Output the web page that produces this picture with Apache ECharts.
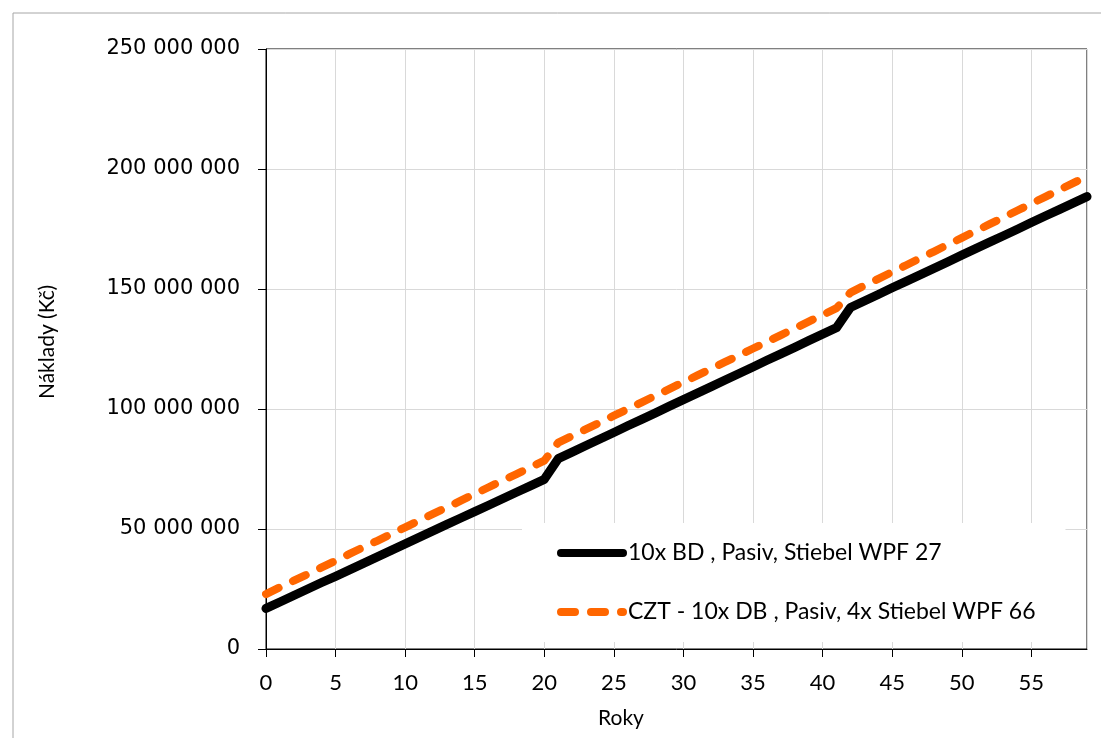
<!DOCTYPE html>
<html>
<head>
<meta charset="utf-8">
<script src="https://cdn.jsdelivr.net/npm/echarts@6/dist/echarts.min.js"></script>
<style>
html,body{margin:0;padding:0;background:#fff;}
#chart{width:1101px;height:738px;}
</style>
</head>
<body>
<div id="chart"></div>
<script>
// Years (x values)
const years = [0,1,2,3,4,5,6,7,8,9,10,11,12,13,14,15,16,17,18,19,20,21,22,23,24,25,26,27,28,29,30,31,32,33,34,35,36,37,38,39,40,41,42,43,44,45,46,47,48,49,50,51,52,53,54,55,56,57,58,59];
// Costs in millions of Kč
const seriesBDmil = [16.9,19.6,22.3,25.0,27.7,30.3,33.0,35.7,38.4,41.1,43.8,46.5,49.2,51.9,54.6,57.2,59.9,62.6,65.3,68.0,70.7,79.3,82.0,84.8,87.5,90.2,93.0,95.7,98.4,101.2,103.9,106.6,109.3,112.1,114.8,117.5,120.3,123.0,125.7,128.5,131.2,133.9,142.3,145.0,147.7,150.5,153.2,155.9,158.6,161.3,164.1,166.8,169.5,172.2,174.9,177.7,180.4,183.1,185.8,188.5];
const seriesCZTmil = [22.9,25.7,28.5,31.2,34.0,36.8,39.6,42.4,45.1,47.9,50.7,53.5,56.3,59.0,61.8,64.6,67.4,70.2,72.9,75.7,78.5,86.0,88.8,91.6,94.4,97.2,100.0,102.8,105.6,108.4,111.2,114.0,116.8,119.6,122.4,125.2,128.0,130.8,133.6,136.4,139.2,142.0,148.5,151.4,154.2,157.1,159.9,162.8,165.6,168.5,171.3,174.2,177.0,179.9,182.7,185.6,188.4,191.3,194.1,197.0];
const seriesNames = ['10x BD , Pasiv, Stiebel WPF 27', 'CZT - 10x DB , Pasiv, 4x Stiebel WPF 66'];
const yTicks = [0,50000000,100000000,150000000,200000000,250000000];
const xTicks = [0,5,10,15,20,25,30,35,40,45,50,55];
const xTitle = 'Roky';
const yTitle = 'Náklady (Kč)';

const toPairs = (arr) => arr.map((v, i) => [years[i], v * 1e6]);
const fmt = (v) => String(v).replace(/\B(?=(\d{3})+(?!\d))/g, ' ');

const chart = echarts.init(document.getElementById('chart'), null, {renderer: 'canvas'});
const calib = 'Lato, "Open Sans", sans-serif';
chart.setOption({
  animation: false,
  backgroundColor: '#fff',
  grid: {left: 266, top: 49, right: 14, bottom: 89, show: true, borderColor: '#000', borderWidth: 1, backgroundColor: 'transparent'},
  xAxis: {
    type: 'value', min: 0, max: 59, interval: 5,
    axisLine: {show: true, lineStyle: {color: '#000', width: 1}},
    axisTick: {show: true, length: 8, lineStyle: {color: '#000'}},
    splitLine: {show: true, lineStyle: {color: '#d9d9d9', width: 1}},
    axisLabel: {
      fontFamily: calib, fontSize: 22, color: '#000', margin: 23,
      showMaxLabel: false,
      formatter: (v) => xTicks.includes(v) ? String(v) : ''
    }
  },
  yAxis: {
    type: 'value', min: yTicks[0], max: yTicks[yTicks.length - 1], interval: 50000000,
    axisLine: {show: true, lineStyle: {color: '#000', width: 1}},
    axisTick: {show: true, length: 8, lineStyle: {color: '#000'}},
    splitLine: {show: true, lineStyle: {color: '#d9d9d9', width: 1}},
    axisLabel: {fontFamily: '"DejaVu Sans", Verdana, sans-serif', fontSize: 21, color: '#000', margin: 26, formatter: fmt}
  },
  legend: {
    orient: 'vertical',
    left: 522, top: 523,
    padding: [18, 30, 18, 35],
    backgroundColor: '#fff',
    itemWidth: 62, itemHeight: 24, itemGap: 35,
    itemStyle: {opacity: 0},
    lineStyle: {width: 8, cap: 'round'},
    textStyle: {fontFamily: calib, fontSize: 23, color: '#000', padding: [0,0,0,0], lineHeight: 24},
    data: seriesNames
  },
  graphic: [
    {type: 'rect', left: 10.5, top: 10.5, shape: {x: 0, y: 0, width: 1200, height: 800}, style: {fill: 'none', stroke: '#a6a6a6', lineWidth: 1}, silent: true, z: -10},
    {type: 'text', style: {text: xTitle, x: 621, y: 718, align: 'center', verticalAlign: 'middle', font: '21px ' + calib, fill: '#000'}},
    {type: 'text', style: {text: yTitle, x: 0, y: 0, align: 'center', verticalAlign: 'middle', font: '21px ' + calib, fill: '#000'}, x: 47, y: 342, rotation: Math.PI / 2}
  ],
  series: [
    {
      name: seriesNames[0], type: 'line', data: toPairs(seriesBDmil),
      showSymbol: false, symbol: 'none',
      lineStyle: {color: '#000', width: 9, cap: 'round', join: 'round'},
      itemStyle: {color: '#000'}, z: 3
    },
    {
      name: seriesNames[1], type: 'line', data: toPairs(seriesCZTmil),
      showSymbol: false, symbol: 'none',
      lineStyle: {color: '#ff6600', width: 8, type: [14, 16], cap: 'round', join: 'round'},
      itemStyle: {color: '#ff6600'}, z: 4
    }
  ]
});
</script>
</body>
</html>
